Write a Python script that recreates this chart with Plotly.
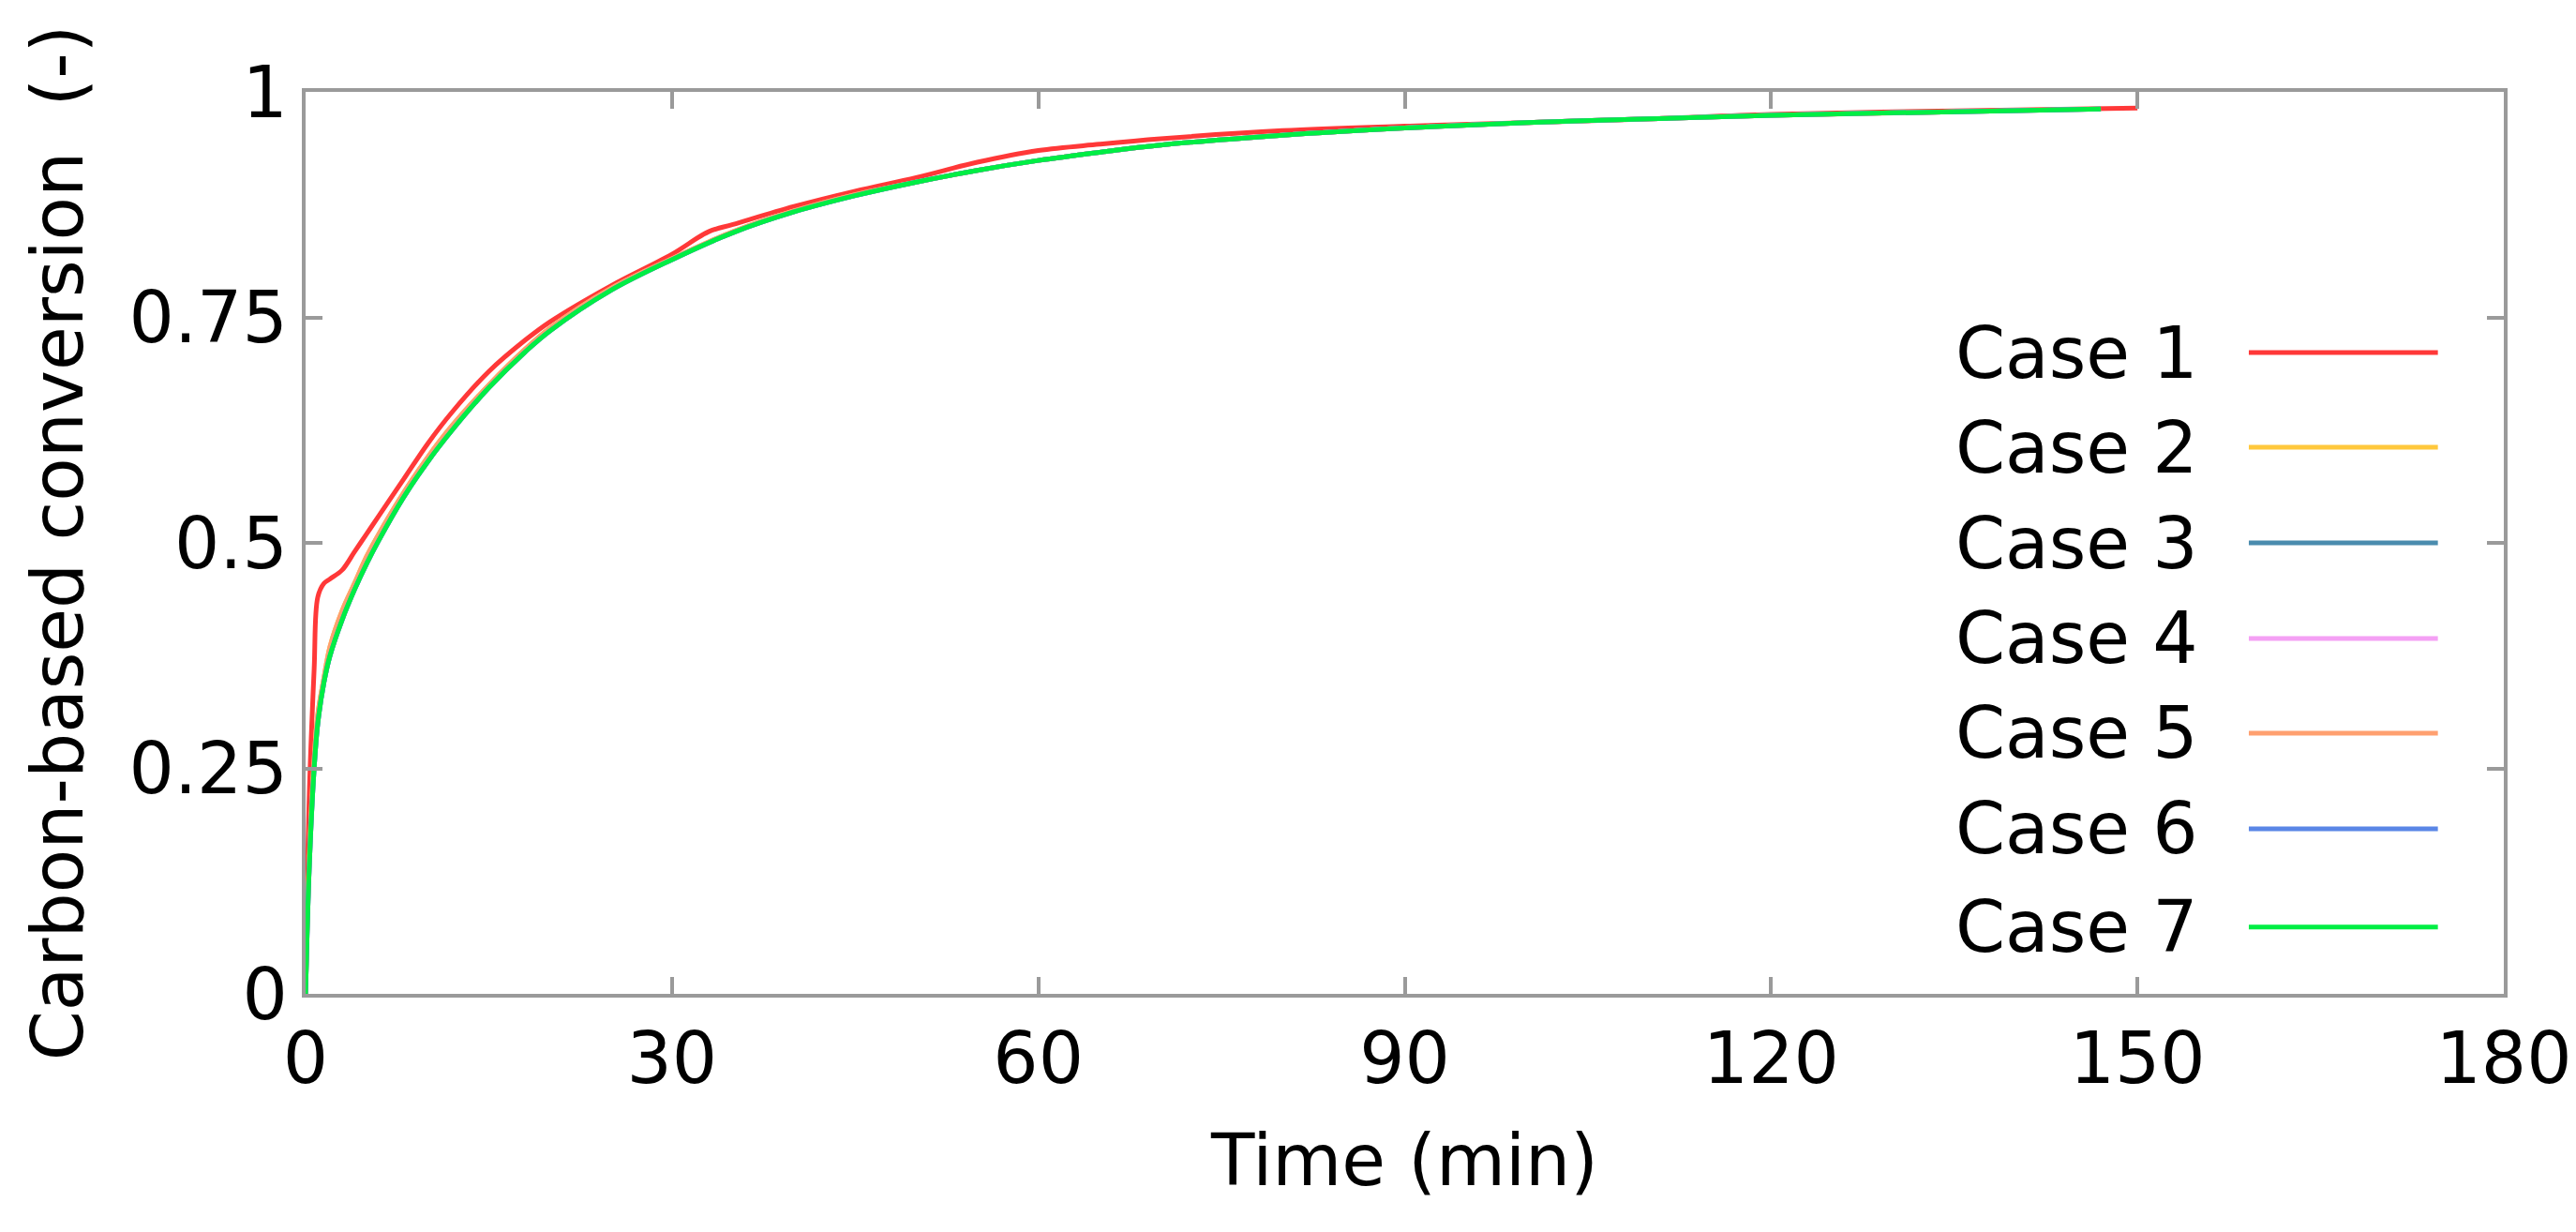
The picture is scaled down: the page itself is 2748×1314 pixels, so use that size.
import plotly.graph_objects as go

names = ["Case 1", "Case 2", "Case 3", "Case 4", "Case 5", "Case 6", "Case 7"]
colors = ["#ff3838", "#ffc83c", "#4a8cae", "#f4a0f4", "#ffa070", "#5a86e6", "#00ee44"]

t_red = [0, 0.3, 0.7, 1, 1.5, 2, 3, 4, 5, 6, 8, 10, 12, 15, 18, 20, 25, 30, 33, 35, 40, 45, 50, 55, 60, 65, 70, 80, 90, 100, 110, 120, 135, 150]
y_red = [0, 0.22, 0.36, 0.44, 0.455, 0.46, 0.47, 0.49, 0.51, 0.53, 0.57, 0.61, 0.645, 0.69, 0.725, 0.745, 0.785, 0.82, 0.845, 0.853, 0.873, 0.89, 0.905, 0.922, 0.935, 0.942, 0.948, 0.957, 0.962, 0.966, 0.970, 0.975, 0.979, 0.982]

t_sim = [0, 0.3, 0.7, 1, 1.5, 2, 3, 4, 5, 6, 8, 10, 12, 15, 18, 20, 25, 30, 35, 40, 45, 50, 55, 60, 65, 70, 80, 90, 100, 110, 120, 135, 147]
y_case2 = [0, 0.15, 0.26, 0.31, 0.35, 0.385, 0.425, 0.455, 0.485, 0.51, 0.555, 0.595, 0.63, 0.675, 0.715, 0.738, 0.782, 0.815, 0.845, 0.868, 0.886, 0.9, 0.913, 0.924, 0.933, 0.941, 0.952, 0.96, 0.966, 0.970, 0.974, 0.978, 0.981]
y_case7 = [0, 0.14, 0.25, 0.30, 0.345, 0.375, 0.415, 0.448, 0.477, 0.503, 0.55, 0.59, 0.625, 0.672, 0.712, 0.735, 0.78, 0.814, 0.844, 0.867, 0.885, 0.9, 0.913, 0.924, 0.933, 0.941, 0.952, 0.96, 0.966, 0.970, 0.974, 0.978, 0.981]

series = [
    (t_red, y_red),
    (t_sim, y_case2),
    (t_sim, y_case7),
    (t_sim, y_case7),
    (t_sim[:-1], y_case2[:-1]),
    (t_sim, y_case7),
    (t_sim, y_case7),
]

fig = go.Figure()
for (tx, ty), n, c in zip(series, names, colors):
    fig.add_trace(go.Scatter(x=tx, y=ty, mode="lines", name=n, line=dict(color=c, width=5), line_shape="spline"))

font = "DejaVu Sans"
fs = 76
ax = dict(showline=True, linecolor="#9a9a9a", linewidth=4, mirror="ticks", ticks="inside",
          ticklen=18, tickwidth=4, tickcolor="#9a9a9a", showgrid=False, zeroline=False,
          tickfont=dict(size=fs, color="black", family=font))
fig.update_xaxes(range=[0, 180], tickvals=[0, 30, 60, 90, 120, 150, 180],
                 title=dict(text="Time (min)", font=dict(size=fs, family=font, color="black"), standoff=40), **ax)
fig.update_yaxes(range=[0, 1], tickvals=[0, 0.25, 0.5, 0.75, 1], ticktext=["0", "0.25", "0.5", "0.75", "1"],
                 title=dict(text="Carbon-based conversion  (-)", font=dict(size=fs, family=font, color="black"), standoff=25), **ax)

rows = [0.711, 0.606, 0.5, 0.394, 0.289, 0.183, 0.074]
for n, c, yy in zip(names, colors, rows):
    fig.add_annotation(x=0.862, y=yy, xref="paper", yref="paper", text=n, showarrow=False,
                       xanchor="right", yanchor="middle", font=dict(size=fs, family=font, color="black"))
    fig.add_shape(type="line", xref="paper", yref="paper", x0=0.884, x1=0.97, y0=yy, y1=yy,
                  line=dict(color=c, width=5))

fig.update_layout(width=2748, height=1314, showlegend=False, plot_bgcolor="white", paper_bgcolor="white",
                  margin=dict(l=318, r=74, t=90, b=262))
fig.write_html("out.html")
